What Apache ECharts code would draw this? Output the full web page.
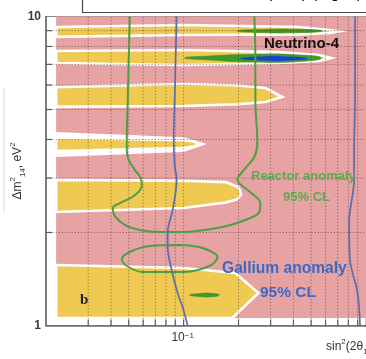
<!DOCTYPE html>
<html>
<head>
<meta charset="utf-8">
<script src="https://cdn.jsdelivr.net/npm/echarts@6/dist/echarts.min.js"></script>
<style>
  html, body { margin: 0; padding: 0; background: #fff; }
  #chart { width: 366px; height: 359px; }
</style>
</head>
<body>
<div id="chart"></div>
<script>
// Axis ranges: sin²(2θ14) horizontally, Δm²14 (eV²) vertically, both logarithmic
const xMin = 0.0176, xMax = 1, yMin = 1, yMax = 10;
const xTicks = [0.03, 0.04, 0.05, 0.06, 0.07, 0.08, 0.09, 0.1, 0.2, 0.3, 0.4, 0.5, 0.6, 0.7, 0.8, 0.9];
const yTicks = [2, 3, 4, 5, 6, 7, 8, 9];

// Excluded area (pink)
const excluded = [[0.02, 1.057], [1, 1.057], [1, 10], [0.02, 10]];

// Allowed islands (yellow), top to bottom
const bandA = [[0.02, 9.25], [0.1, 9.39], [0.43, 9.25], [0.63, 9.04], [0.712, 8.95], [0.63, 8.84], [0.43, 8.75], [0.1, 8.71], [0.02, 8.59]];
const bandB = [[0.02, 7.73], [0.1, 7.79], [0.335, 7.67], [0.553, 7.51], [0.644, 7.34], [0.553, 7.18], [0.335, 7.07], [0.1, 6.97], [0.02, 7.07]];
const bandC = [[0.02, 5.91], [0.1, 6.05], [0.2, 5.98], [0.281, 5.87], [0.347, 5.49], [0.281, 5.29], [0.2, 5.2], [0.1, 5.13], [0.02, 5.10]];
const bandD = [[0.02, 4.05], [0.1, 3.98], [0.115, 3.93], [0.122, 3.87], [0.115, 3.80], [0.1, 3.75], [0.02, 3.67]];
const bandE = [[0.02, 2.96], [0.1, 2.94], [0.17, 2.91], [0.2, 2.80], [0.207, 2.66], [0.197, 2.56], [0.17, 2.50], [0.1, 2.40], [0.02, 2.33]];
const bandF = [[0.02, 1.57], [0.1, 1.535], [0.192, 1.479], [0.257, 1.274], [0.185, 1.057], [0.02, 1.057]];
// Gap around the narrow island near 4 eV²
const gapD = [[0.02, 4.23], [0.1, 4.07], [0.134, 3.87], [0.1, 3.64], [0.02, 3.51]];

// Neutrino-4 best-fit areas
const n4Green = [
  [[0.197, 8.98], [0.26, 9.08], [0.43, 9.09], [0.575, 8.98], [0.43, 8.87], [0.26, 8.88]],
  [[0.1013, 7.34], [0.139, 7.45], [0.23, 7.53], [0.43, 7.51], [0.567, 7.34], [0.43, 7.15], [0.23, 7.12], [0.139, 7.23]],
  [[0.108, 1.255], [0.12, 1.268], [0.145, 1.27], [0.157, 1.255], [0.145, 1.24], [0.12, 1.242]]
];
const n4Blue = [
  [[0.205, 7.31], [0.26, 7.42], [0.38, 7.42], [0.476, 7.31], [0.38, 7.20], [0.26, 7.20]]
];

// Reactor anomaly 95% CL contours
const reactorMain = [
  [0.0507, 10], [0.0500, 7.23], [0.0494, 5.37], [0.0488, 4.01], [0.0488, 3.70], [0.0500, 3.43],
  [0.0540, 3.19], [0.0582, 3.00], [0.0590, 2.83], [0.0533, 2.625], [0.0447, 2.49], [0.0409, 2.40],
  [0.0420, 2.26], [0.0476, 2.115], [0.0575, 2.037], [0.0739, 2.007], [0.0987, 2.007], [0.1634, 2.084],
  [0.2183, 2.195], [0.2602, 2.33], [0.2634, 2.49], [0.2323, 2.70], [0.1973, 2.96], [0.2183, 3.23],
  [0.2443, 3.51], [0.2537, 3.90], [0.2474, 5.37], [0.2474, 7.23], [0.2443, 10]
];
const reactorIsland = [
  [0.0987, 1.822], [0.0652, 1.808], [0.0507, 1.729], [0.0458, 1.641], [0.0488, 1.558], [0.0597, 1.49],
  [0.0987, 1.49], [0.1387, 1.558], [0.1534, 1.666], [0.1270, 1.781], [0.0987, 1.822]
];

// Gallium anomaly 95% CL boundaries
const galliumLeft = [
  [0.0916, 10], [0.0904, 7.23], [0.0893, 5.37], [0.0882, 3.98], [0.0893, 3.31], [0.0916, 2.96],
  [0.0871, 2.365], [0.0818, 2.007], [0.0818, 1.795], [0.086, 1.512], [0.0927, 1.274], [0.0987, 1.148], [0.1052, 1.0]
];
const galliumRight = [
  [0.871, 10], [0.871, 5.37], [0.860, 3.70], [0.860, 2.96], [0.8074, 2.146], [0.8177, 1.629],
  [0.893, 1.303], [0.916, 1.148], [0.927, 1.0]
];

const PINK = '#e7a2a3', YELLOW = '#f0c953', GREEN = '#4e9f43', BLUE = '#5b6dab';
const GRID_DOT = 'rgba(70,45,45,0.55)';
const SANS = '"Liberation Sans", Arial, sans-serif';

function polySeries(polys, style, smooth) {
  return {
    type: 'custom', silent: true, animation: false,
    data: polys.map((p, i) => [p[0][0], p[0][1], i]),
    encode: { x: 0, y: 1 },
    renderItem(params, api) {
      const pts = polys[api.value(2)].map(pt => api.coord(pt));
      return { type: 'polygon', shape: { points: pts, smooth: smooth || 0 }, style: style };
    }
  };
}

function lineSeries(data, color, width) {
  return {
    type: 'line', data, smooth: 0.35, symbol: 'none', silent: true, animation: false,
    lineStyle: { color, width }
  };
}

const chart = echarts.init(document.getElementById('chart'), null, { renderer: 'canvas' });

chart.setOption({
  animation: false,
  grid: { left: 46, top: 16.5, width: 321, height: 309, show: true, borderColor: '#8a8a8a', borderWidth: 1, backgroundColor: 'transparent' },
  xAxis: {
    type: 'log', logBase: 10, min: xMin, max: xMax,
    axisLine: { show: true, lineStyle: { color: '#6b6b6b', width: 1.6 } },
    axisTick: { show: false }, axisLabel: { show: false }, splitLine: { show: false }
  },
  yAxis: {
    type: 'log', logBase: 10, min: yMin, max: yMax,
    axisLine: { show: true, lineStyle: { color: '#6b6b6b', width: 1.6 } },
    axisTick: { show: false }, splitLine: { show: false },
    axisLabel: {
      show: true, margin: 5, fontSize: 12, fontWeight: 'bold', color: '#3a3a3a', fontFamily: SANS,
      formatter: v => (v === 1 || v === 10) ? String(v) : ''
    }
  },
  series: [
    polySeries([excluded], { fill: PINK }),
    polySeries([gapD], { fill: '#ffffff' }),
    polySeries([bandA, bandB, bandC, bandD, bandE, bandF], { fill: YELLOW, stroke: '#ffffff', lineWidth: 2.6 }),
    polySeries(n4Green, { fill: '#3c9a2b', stroke: '#3a8f2c', lineWidth: 0.6 }, 0.6),
    polySeries(n4Blue, { fill: '#1d40d4' }, 0.6),
    // dotted grid with inward ticks on the bottom axis
    {
      type: 'custom', silent: true, animation: false,
      data: xTicks.map(v => [v, yMin]), encode: { x: 0, y: 1 },
      renderItem(params, api) {
        const v = api.value(0);
        const a = api.coord([v, yMin]), b = api.coord([v, yMax]);
        return { type: 'group', children: [
          { type: 'line', shape: { x1: a[0], y1: a[1], x2: b[0], y2: b[1] }, style: { stroke: GRID_DOT, lineWidth: 1, lineDash: [1.2, 2] } },
          { type: 'line', shape: { x1: a[0], y1: a[1], x2: a[0], y2: a[1] - 6 }, style: { stroke: '#5a5a5a', lineWidth: 1.2 } }
        ] };
      }
    },
    // dotted grid with inward ticks on the left axis
    {
      type: 'custom', silent: true, animation: false,
      data: yTicks.map(v => [xMin, v]), encode: { x: 0, y: 1 },
      renderItem(params, api) {
        const v = api.value(1);
        const a = api.coord([xMin, v]), b = api.coord([xMax, v]);
        return { type: 'group', children: [
          { type: 'line', shape: { x1: a[0], y1: a[1], x2: b[0], y2: b[1] }, style: { stroke: GRID_DOT, lineWidth: 1, lineDash: [1.2, 2] } },
          { type: 'line', shape: { x1: a[0], y1: a[1], x2: a[0] + 6, y2: a[1] }, style: { stroke: '#5a5a5a', lineWidth: 1.2 } }
        ] };
      }
    },
    lineSeries(reactorMain, GREEN, 2),
    lineSeries(reactorIsland, GREEN, 2),
    lineSeries(galliumLeft, BLUE, 1.7),
    lineSeries(galliumRight, BLUE, 1.7),
    // decade label under the bottom axis
    {
      type: 'custom', silent: true, animation: false,
      data: [[0.1, yMin]], encode: { x: 0, y: 1 },
      renderItem(params, api) {
        const p = api.coord([0.1, yMin]);
        return { type: 'text', x: p[0] - 1, y: p[1] + 12, style: {
          text: '10{s|−1}', fontSize: 12, fontFamily: SANS, fill: '#333', align: 'center', verticalAlign: 'middle',
          rich: { s: { fontSize: 8, verticalAlign: 'top', fill: '#333', fontFamily: SANS } }
        } };
      }
    }
  ],
  graphic: [
    { type: 'rect', shape: { x: 82.5, y: -10, width: 300, height: 22.5 }, style: { fill: '#fff', stroke: '#4a4a4a', lineWidth: 1.2 }, z: 10 },
    { type: 'text', x: 175, y: 1.5, z: 11, style: { text: 'Δm²₁₄ vs sin²(2θ₁₄) (Fig. 3), comparison', fontSize: 16, fontFamily: SANS, fill: '#111', verticalAlign: 'bottom' } },
    { type: 'line', shape: { x1: 4, y1: 87, x2: 4, y2: 212 }, style: { stroke: '#dcdcdc', lineWidth: 1 }, z: 10 },
    { type: 'text', x: 264, y: 44, z: 20, style: { text: 'Neutrino-4', fontSize: 15, fontWeight: 'bold', fontFamily: SANS, fill: '#111', verticalAlign: 'middle' } },
    { type: 'text', x: 251, y: 176, z: 20, style: { text: 'Reactor anomaly', fontSize: 13, fontWeight: 'bold', fontFamily: SANS, fill: '#58ad4f', verticalAlign: 'middle' } },
    { type: 'text', x: 283, y: 197, z: 20, style: { text: '95% CL', fontSize: 13, fontWeight: 'bold', fontFamily: SANS, fill: '#58ad4f', verticalAlign: 'middle' } },
    { type: 'text', x: 222, y: 269, z: 20, style: { text: 'Gallium anomaly', fontSize: 15.6, fontWeight: 'bold', fontFamily: SANS, fill: '#3d68c4', verticalAlign: 'middle' } },
    { type: 'text', x: 260, y: 293, z: 20, style: { text: '95% CL', fontSize: 15.5, fontWeight: 'bold', fontFamily: SANS, fill: '#3d68c4', verticalAlign: 'middle' } },
    { type: 'text', x: 80, y: 300, z: 20, style: { text: 'b', fontSize: 15, fontWeight: 'bold', fontFamily: '"Liberation Serif", "Times New Roman", serif', fill: '#222', verticalAlign: 'middle' } },
    { type: 'text', x: 326, y: 347, z: 20, style: {
      text: 'sin{p|2}(2θ{b|14}), eV', fontSize: 12, fontFamily: SANS, fill: '#333', verticalAlign: 'middle', lineHeight: 18,
      rich: { p: { fontSize: 8, verticalAlign: 'top', fill: '#333', fontFamily: SANS }, b: { fontSize: 8, verticalAlign: 'bottom', fill: '#333', fontFamily: SANS } }
    } },
    { type: 'text', x: 18, y: 171, rotation: Math.PI / 2, z: 20, style: {
      text: 'Δm{p|2}{b|14}, eV{p|2}', fontSize: 12, fontFamily: SANS, fill: '#333', align: 'center', verticalAlign: 'middle', lineHeight: 18,
      rich: { p: { fontSize: 8, verticalAlign: 'top', fill: '#333', fontFamily: SANS }, b: { fontSize: 8, verticalAlign: 'bottom', fill: '#333', fontFamily: SANS } }
    } }
  ]
});
</script>
</body>
</html>
